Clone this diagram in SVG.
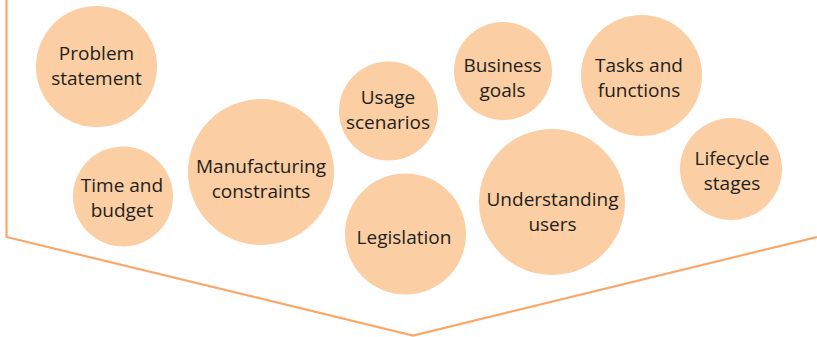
<svg xmlns="http://www.w3.org/2000/svg" width="817" height="337" viewBox="0 0 817 337">
<style>
.n circle{fill:#FBCEA3;}
.n text{font-family:"Open Sans","Noto Sans",sans-serif;font-size:19px;fill:#231F20;text-anchor:middle;}
.c{fill:none;stroke:#F9A86A;stroke-width:2.2;stroke-linejoin:miter;}
</style>
<rect width="817" height="337" fill="#fff"/>
<g id="connectors">
<polyline class="c" points="6.5,0 6.5,237 413,335.5 817,237"/>
</g>
<g id="problem-statement" class="n"><circle cx="96.5" cy="66.5" r="60.5"/><text x="96.5" y="60">Problem</text><text x="96.5" y="85">statement</text></g>
<g id="time-and-budget" class="n"><circle cx="123" cy="196.5" r="50"/><text x="122" y="192">Time and</text><text x="122" y="217">budget</text></g>
<g id="manufacturing-constraints" class="n"><circle cx="261" cy="172" r="73"/><text x="261" y="173">Manufacturing</text><text x="261" y="198">constraints</text></g>
<g id="usage-scenarios" class="n"><circle cx="388.5" cy="111" r="49.5"/><text x="388" y="104">Usage</text><text x="388" y="129">scenarios</text></g>
<g id="legislation" class="n"><circle cx="405.5" cy="234" r="60.5"/><text x="404" y="244">Legislation</text></g>
<g id="business-goals" class="n"><circle cx="503" cy="71" r="49"/><text x="502.5" y="72">Business</text><text x="502.5" y="97">goals</text></g>
<g id="tasks-and-functions" class="n"><circle cx="641.5" cy="75.5" r="60.5"/><text x="639" y="72">Tasks and</text><text x="639" y="97">functions</text></g>
<g id="understanding-users" class="n"><circle cx="552" cy="202" r="73"/><text x="552.5" y="206">Understanding</text><text x="552.5" y="231">users</text></g>
<g id="lifecycle-stages" class="n"><circle cx="731" cy="169" r="51"/><text x="732" y="165">Lifecycle</text><text x="732" y="190">stages</text></g>
</svg>
